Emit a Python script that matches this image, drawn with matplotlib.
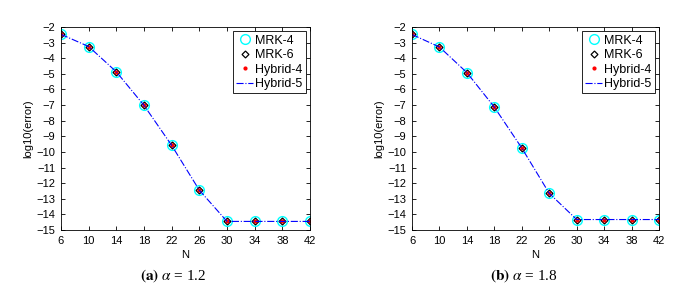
import matplotlib.pyplot as plt
import numpy as np

# data
N = [6, 10, 14, 18, 22, 26, 30, 34, 38, 42]
err_a = [-2.47, -3.25, -4.87, -7.02, -9.58, -12.45, -14.45, -14.45, -14.45, -14.45]
err_b = [-2.48, -3.28, -4.92, -7.13, -9.75, -12.65, -14.33, -14.33, -14.33, -14.33]
captions = [(r'$\mathbf{(a)}$', r'$\alpha$ = 1.2'), (r'$\mathbf{(b)}$', r'$\alpha$ = 1.8')]

plt.rcParams['font.family'] = ['Liberation Sans', 'DejaVu Sans']
plt.rcParams['font.size'] = 8

fig = plt.figure(figsize=(6.94, 2.90), dpi=100)
W, H = 694, 290
boxes = [(61, 27, 310, 230), (412, 27, 659, 230)]

for (x0, y0, x1, y1), err, cap in zip(boxes, [err_a, err_b], captions):
    ax = fig.add_axes([x0 / W, 1 - y1 / H, (x1 - x0) / W, (y1 - y0) / H])
    ax.plot(N, err, 'o', mfc='none', mec='cyan', ms=7, mew=1.0, label='MRK-4')
    ax.plot(N, err, 'D', mfc='none', mec='black', ms=3.5, mew=0.9, label='MRK-6')
    ax.plot(N, err, '.', color='red', ms=4, label='Hybrid-4')
    ax.plot(N, err, '-.', color='blue', lw=0.8, label='Hybrid-5')
    ax.set_xlim(6, 42)
    ax.set_ylim(-15, -2)
    ax.set_xticks(N)
    ax.set_yticks(np.arange(-15, -1, 1))
    ax.tick_params(direction='in', top=True, right=True, length=3, width=0.6, labelsize=8, pad=4)
    for s in ax.spines.values():
        s.set_linewidth(0.6)
    ax.set_xlabel('N', fontsize=8, labelpad=3)
    ax.set_ylabel('log10(error)', fontsize=8, labelpad=2)
    leg = ax.legend(loc='upper right', fontsize=9, fancybox=False, framealpha=1,
                    edgecolor='black', borderpad=0.25, labelspacing=0.2,
                    handlelength=1.3, handletextpad=0.2, borderaxespad=0.35)
    leg.get_frame().set_linewidth(0.6)
    cx = ((x0 + x1) / 2 - 12) / W
    fig.text(cx, 1 - 276 / H, cap[0] + ' ' + cap[1], ha='center', va='center',
             fontsize=11, family='Liberation Serif', math_fontfamily='stix')

fig.savefig('out.png', dpi=100)
